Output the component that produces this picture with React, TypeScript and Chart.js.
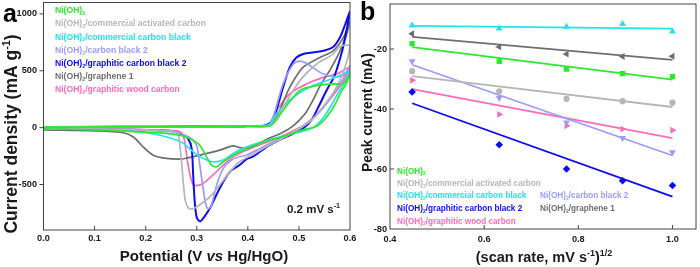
import React, { useEffect, useRef } from "react";
import { Chart, registerables } from "chart.js";

Chart.register(...registerables);

const FONT = '"Liberation Sans", Arial, Helvetica, sans-serif';
const TEXT = "#1a1a1a";
const FRAME = "#444444";

// Sample names (all share the Ni(OH)2 prefix) and their colours
const seriesSuffixes = [
  "",
  "/commercial activated carbon",
  "/commercial carbon black",
  "/carbon black 2",
  "/graphitic carbon black 2",
  "/graphene 1",
  "/graphitic wood carbon",
];
const seriesColors = ["#2ee82e", "#b6b6b6", "#22e3ee", "#9b9bff", "#0c0cf2", "#6e6e6e", "#ff6cb5"];

// Cyclic voltammograms at 0.2 mV/s: [potential V, current density mA/g],
// anodic sweep 0 -> 0.6 V followed by the cathodic sweep back to 0 V
const cvNiOH2: [number, number][] = [
  [0, 4], [0.15, 6], [0.3, 9], [0.4, 13], [0.445, 20], [0.469, 151], [0.502, 326], [0.535, 369],
  [0.567, 384], [0.587, 388], [0.6, 470],
  [0.592, 380], [0.584, 326], [0.564, 152], [0.538, 20], [0.505, -24], [0.466, -82], [0.43, -126],
  [0.398, -183], [0.371, -242], [0.352, -300], [0.339, -344], [0.329, -329], [0.319, -257],
  [0.306, -155], [0.286, -96], [0.267, -67], [0.228, -47], [0.189, -38], [0.12, -22], [0, -10],
];
const cvActivatedCarbon: [number, number][] = [
  [0, 4], [0.15, 6], [0.3, 9], [0.4, 13], [0.445, 22], [0.469, 180], [0.502, 413], [0.535, 559],
  [0.567, 646], [0.58, 712], [0.6, 720],
  [0.597, 640], [0.588, 500], [0.575, 370], [0.555, 220], [0.535, 110], [0.512, 25], [0.49, -35],
  [0.476, -75], [0.443, -150], [0.41, -235], [0.384, -300], [0.365, -387], [0.345, -504],
  [0.326, -606], [0.306, -678], [0.293, -713], [0.284, -708], [0.278, -650], [0.274, -504],
  [0.27, -290], [0.266, -120], [0.262, -45], [0.24, -25], [0.12, -14], [0, -10],
];
const cvCarbonBlack: [number, number][] = [
  [0, 6], [0.15, 8], [0.3, 10], [0.4, 14], [0.44, 22], [0.456, 122], [0.489, 267], [0.521, 354],
  [0.554, 413], [0.58, 457], [0.6, 500],
  [0.59, 400], [0.575, 290], [0.56, 170], [0.545, 70], [0.53, 5], [0.51, -30], [0.49, -50],
  [0.476, -67], [0.437, -111], [0.398, -169], [0.371, -227], [0.352, -285], [0.332, -300],
  [0.313, -271], [0.293, -213], [0.273, -135], [0.254, -100], [0.228, -67], [0.189, -38],
  [0.124, -18], [0, -8],
];
const cvCarbonBlack2: [number, number][] = [
  [0, 5], [0.15, 7], [0.3, 9], [0.4, 13], [0.44, 22], [0.45, 100], [0.469, 384], [0.489, 559],
  [0.502, 585], [0.515, 565], [0.528, 525], [0.548, 471], [0.567, 448], [0.587, 457], [0.6, 545],
  [0.592, 470], [0.578, 370], [0.562, 270], [0.545, 170], [0.525, 70], [0.505, 0], [0.48, -60],
  [0.456, -111], [0.424, -183], [0.398, -240], [0.371, -275], [0.352, -358], [0.339, -504],
  [0.329, -678], [0.3225, -715], [0.317, -660], [0.312, -520], [0.306, -330], [0.3, -160],
  [0.29, -100], [0.27, -55], [0.25, -35], [0.15, -18], [0, -10],
];
const cvGraphiticCarbonBlack2: [number, number][] = [
  [0, 5], [0.15, 7], [0.3, 9], [0.4, 13], [0.435, 22], [0.4497, 79], [0.469, 354], [0.482, 529],
  [0.495, 616], [0.51, 650], [0.53, 662], [0.55, 678], [0.567, 708], [0.58, 790], [0.59, 900],
  [0.6, 1020],
  [0.593, 850], [0.585, 680], [0.57, 460], [0.554, 326], [0.538, 180], [0.525, 70], [0.51, 0],
  [0.49, -50], [0.465, -100], [0.44, -160], [0.41, -255], [0.398, -275], [0.384, -329],
  [0.365, -387], [0.345, -533], [0.326, -707], [0.313, -795], [0.306, -824], [0.3, -790],
  [0.296, -650], [0.293, -416], [0.29, -183], [0.283, -96], [0.27, -60], [0.25, -30],
  [0.15, -18], [0, -10],
];
const cvGraphene1: [number, number][] = [
  [0, 4], [0.15, 6], [0.3, 9], [0.4, 13], [0.445, 22], [0.456, 93], [0.469, 220], [0.482, 354],
  [0.508, 529], [0.541, 616], [0.567, 675], [0.587, 791], [0.6, 930],
  [0.592, 800], [0.578, 650], [0.56, 500], [0.543, 380], [0.525, 220], [0.512, 122], [0.49, 20],
  [0.465, -50], [0.44, -95], [0.424, -135], [0.41, -165], [0.398, -180], [0.384, -176],
  [0.371, -160], [0.345, -198], [0.306, -242], [0.28, -268], [0.267, -277], [0.241, -271],
  [0.215, -242], [0.195, -169], [0.176, -82], [0.156, -45], [0.1, -28], [0, -21],
];
const cvWoodCarbon: [number, number][] = [
  [0, 7], [0.15, 9], [0.3, 11], [0.4, 15], [0.44, 24], [0.456, 151], [0.482, 297], [0.515, 384],
  [0.548, 442], [0.574, 471], [0.6, 530],
  [0.59, 430], [0.575, 330], [0.555, 215], [0.535, 115], [0.515, 40], [0.495, -15], [0.463, -82],
  [0.43, -140], [0.398, -198], [0.371, -257], [0.352, -329], [0.332, -416], [0.313, -489],
  [0.3, -510], [0.293, -500], [0.287, -420], [0.282, -300], [0.277, -140], [0.272, -55],
  [0.26, -28], [0.15, -14], [0, -8],
];
const cvCurves = [
  cvNiOH2, cvActivatedCarbon, cvCarbonBlack, cvCarbonBlack2, cvGraphiticCarbonBlack2, cvGraphene1, cvWoodCarbon,
];

const potentialTicks = [0, 0.1, 0.2, 0.3, 0.4, 0.5, 0.6];
const currentDensityTicks = [-500, 0, 500, 1000];

// Cathodic peak current vs square root of scan rate (0.2 ... 1.0 mV/s)
const sqrtScanRate = [0.447, 0.632, 0.775, 0.894, 1.0];
const peakNiOH2 = [-18.2, -24.1, -26.7, -28.2, -29.2];
const peakActivatedCarbon = [-27.4, -34.1, -36.6, -37.4, -37.9];
const peakCarbonBlack = [-12.2, -13.2, -12.6, -11.7, -14.2];
const peakCarbonBlack2 = [-24.1, -36.3, -44.5, -49.7, -54.4];
const peakGraphiticCarbonBlack2 = [-34.3, -51.9, -60.0, -63.9, -65.5];
const peakGraphene1 = [-14.9, -19.3, -21.7, -22.5, -22.4];
const peakWoodCarbon = [-30.4, -41.8, -45.6, -46.7, -47.1];
const peakSeries = [
  peakNiOH2, peakActivatedCarbon, peakCarbonBlack, peakCarbonBlack2, peakGraphiticCarbonBlack2, peakGraphene1, peakWoodCarbon,
];
const sqrtScanRateTicks = [0.4, 0.6, 0.8, 1.0];
const peakCurrentTicks = [-80, -60, -40, -20];

const peakMarkers: { style: string; rotation: number; radius: number }[] = [
  { style: "rect", rotation: 0, radius: 3.8 },
  { style: "circle", rotation: 0, radius: 3.1 },
  { style: "triangle", rotation: 0, radius: 4 },
  { style: "triangle", rotation: 180, radius: 4 },
  { style: "rectRot", rotation: 0, radius: 3.8 },
  { style: "triangle", rotation: 270, radius: 4 },
  { style: "triangle", rotation: 90, radius: 4 },
];

// Least-squares straight line through a series, evaluated at the ends of the x range
function linearFit(xs: number[], ys: number[]) {
  const n = xs.length;
  const mx = xs.reduce((a, b) => a + b, 0) / n;
  const my = ys.reduce((a, b) => a + b, 0) / n;
  let sxy = 0;
  let sxx = 0;
  for (let i = 0; i < n; i++) {
    sxy += (xs[i] - mx) * (ys[i] - my);
    sxx += (xs[i] - mx) * (xs[i] - mx);
  }
  const k = sxy / sxx;
  const x0 = xs[0];
  const x1 = xs[n - 1];
  return [
    { x: x0, y: my + k * (x0 - mx) },
    { x: x1, y: my + k * (x1 - mx) },
  ];
}

type Run = { text: string; kind?: "sub" | "sup"; italic?: boolean };

function runFont(size: number, run: Run) {
  const s = run.kind ? size * 0.62 : size;
  return `${run.italic ? "italic " : ""}bold ${s}px ${FONT}`;
}

function runsWidth(ctx: CanvasRenderingContext2D, runs: Run[], size: number) {
  let w = 0;
  for (const r of runs) {
    ctx.font = runFont(size, r);
    w += ctx.measureText(r.text).width;
  }
  return w;
}

function drawRuns(
  ctx: CanvasRenderingContext2D,
  runs: Run[],
  x: number,
  y: number,
  size: number,
  color: string,
  align: "left" | "center" | "right"
) {
  ctx.save();
  ctx.fillStyle = color;
  ctx.textBaseline = "alphabetic";
  ctx.textAlign = "left";
  const w = runsWidth(ctx, runs, size);
  let cx = align === "center" ? x - w / 2 : align === "right" ? x - w : x;
  for (const r of runs) {
    ctx.font = runFont(size, r);
    const dy = r.kind === "sub" ? size * 0.22 : r.kind === "sup" ? -size * 0.4 : 0;
    ctx.fillText(r.text, cx, y + dy);
    cx += ctx.measureText(r.text).width;
  }
  ctx.restore();
}

const niLabel = (suffix: string): Run[] => [
  { text: "Ni(OH)" },
  { text: "2", kind: "sub" },
  ...(suffix ? [{ text: suffix }] : []),
];

const TICK_SIZE = 9.2;

function drawFrame(chart: any) {
  const { ctx, chartArea: a } = chart;
  ctx.save();
  ctx.strokeStyle = FRAME;
  ctx.lineWidth = 1;
  ctx.strokeRect(a.left, a.top, a.right - a.left, a.bottom - a.top);
  ctx.restore();
}

// Tick marks (x inward, y inward/outward) and their labels
function drawAxes(
  chart: any,
  xs: number[],
  ys: number[],
  yTickDir: number,
  xLabelY: number,
  yLabelGap: number,
  fmtX: (v: number) => string
) {
  const { ctx, chartArea: a, scales } = chart;
  ctx.save();
  ctx.strokeStyle = FRAME;
  ctx.lineWidth = 1;
  ctx.beginPath();
  for (const v of xs) {
    const px = scales.x.getPixelForValue(v);
    if (Math.abs(px - a.left) < 1 || Math.abs(px - a.right) < 1) continue;
    ctx.moveTo(px, a.bottom);
    ctx.lineTo(px, a.bottom - 4);
  }
  for (const v of ys) {
    const py = scales.y.getPixelForValue(v);
    if (Math.abs(py - a.bottom) < 1 || Math.abs(py - a.top) < 1) continue;
    ctx.moveTo(a.left, py);
    ctx.lineTo(a.left + yTickDir * 4, py);
  }
  ctx.stroke();

  ctx.fillStyle = TEXT;
  ctx.font = `bold ${TICK_SIZE}px ${FONT}`;
  ctx.textAlign = "center";
  ctx.textBaseline = "middle";
  for (const v of xs) {
    ctx.fillText(fmtX(v), scales.x.getPixelForValue(v), xLabelY);
  }
  ctx.textAlign = "right";
  for (const v of ys) {
    ctx.fillText(String(v), a.left - yLabelGap, scales.y.getPixelForValue(v));
  }
  ctx.restore();
}

const cvDecorations = {
  id: "cvDecorations",
  afterDraw(chart: any) {
    const { ctx } = chart;
    drawFrame(chart);
    drawAxes(chart, potentialTicks, currentDensityTicks, -1, 238.5, 6.5, (v) => v.toFixed(1));

    // panel letter
    drawRuns(ctx, [{ text: "a" }], 3, 22, 25, "#000", "left");

    // axis titles
    drawRuns(ctx, [{ text: "Potential (V " }, { text: "vs", italic: true }, { text: " Hg/HgO)" }], 204, 261, 15, TEXT, "center");
    ctx.save();
    ctx.translate(17, 134);
    ctx.rotate(-Math.PI / 2);
    drawRuns(ctx, [{ text: "Current density (mA g" }, { text: "-1", kind: "sup" }, { text: ")" }], 0, 0, 17.5, TEXT, "center");
    ctx.restore();

    // legend
    seriesSuffixes.forEach((s, i) => {
      drawRuns(ctx, niLabel(s), 55, 13.2 + i * 13.2, 8.6, seriesColors[i], "left");
    });

    // scan-rate note
    drawRuns(ctx, [{ text: "0.2 mV s" }, { text: "-1", kind: "sup" }], 340, 213, 11.5, TEXT, "right");
  },
};

const peakDecorations = {
  id: "peakDecorations",
  afterDraw(chart: any) {
    const { ctx } = chart;
    drawFrame(chart);
    drawAxes(chart, sqrtScanRateTicks, peakCurrentTicks, 1, 239.3, 3, (v) => v.toFixed(1));

    drawRuns(ctx, [{ text: "b" }], 5, 20, 25, "#000", "left");

    drawRuns(
      ctx,
      [{ text: "(scan rate, mV s" }, { text: "-1", kind: "sup" }, { text: ")" }, { text: "1/2", kind: "sup" }],
      189,
      262,
      14.5,
      TEXT,
      "center"
    );
    ctx.save();
    ctx.translate(17, 112.5);
    ctx.rotate(-Math.PI / 2);
    drawRuns(ctx, [{ text: "Peak current (mA)" }], 0, 0, 13.8, TEXT, "center");
    ctx.restore();

    // legend, two columns
    const rows: [number, number, number][] = [
      [0, 42, 173.5],
      [1, 42, 185.8],
      [2, 42, 198.3],
      [3, 185, 198.3],
      [4, 42, 211],
      [5, 185, 211],
      [6, 42, 223.5],
    ];
    for (const [i, x, y] of rows) {
      drawRuns(ctx, niLabel(seriesSuffixes[i]), x, y, 8.2, seriesColors[i], "left");
    }
  },
};

function hiddenAxis(min: number, max: number, size: number, horizontal: boolean) {
  return {
    type: "linear",
    min,
    max,
    grid: { display: false },
    border: { display: false },
    ticks: { display: false },
    afterFit: (s: any) => {
      if (horizontal) s.height = size;
      else s.width = size;
    },
  };
}

export default function App() {
  const cvRef = useRef<HTMLCanvasElement>(null);
  const peakRef = useRef<HTMLCanvasElement>(null);

  useEffect(() => {
    document.body.style.margin = "0";
    if (!cvRef.current || !peakRef.current) return;

    const cvChart = new Chart(cvRef.current, {
      type: "scatter",
      data: {
        datasets: cvCurves.map((pts, i) => ({
          data: pts.map(([x, y]) => ({ x, y })),
          showLine: true,
          borderColor: seriesColors[i],
          backgroundColor: seriesColors[i],
          borderWidth: i === 4 ? 2 : 1.7,
          pointRadius: 0,
          tension: 0.3,
        })),
      },
      options: {
        responsive: false,
        animation: false,
        events: [],
        layout: { padding: { top: 2.5, right: 25, left: 0, bottom: 0 } },
        plugins: { legend: { display: false }, tooltip: { enabled: false } },
        scales: {
          x: hiddenAxis(0, 0.6, 37, true),
          y: hiddenAxis(-900, 1100, 43.5, false),
        },
      },
      plugins: [cvDecorations],
    } as any);

    const pointSets = peakSeries.map((ys, i) => ({
      data: ys.map((y, j) => ({ x: sqrtScanRate[j], y })),
      showLine: false,
      pointStyle: peakMarkers[i].style,
      rotation: peakMarkers[i].rotation,
      pointRadius: peakMarkers[i].radius,
      borderWidth: 0,
      backgroundColor: seriesColors[i],
      borderColor: seriesColors[i],
      order: 0,
    }));
    const fitSets = peakSeries.map((ys, i) => ({
      data: linearFit(sqrtScanRate, ys),
      showLine: true,
      pointRadius: 0,
      borderWidth: 1.8,
      borderColor: seriesColors[i],
      backgroundColor: seriesColors[i],
      order: 1,
    }));

    const peakChart = new Chart(peakRef.current, {
      type: "scatter",
      data: { datasets: [...pointSets, ...fitSets] },
      options: {
        responsive: false,
        animation: false,
        events: [],
        layout: { padding: { top: 2.5, right: 1.25, left: 0, bottom: 0 } },
        plugins: { legend: { display: false }, tooltip: { enabled: false } },
        scales: {
          x: hiddenAxis(0.4, 1.05, 38, true),
          y: hiddenAxis(-80, -5, 35, false),
        },
      },
      plugins: [peakDecorations],
    } as any);

    return () => {
      cvChart.destroy();
      peakChart.destroy();
    };
  }, []);

  return (
    <div style={{ position: "relative", width: 700, height: 267, background: "#fff", overflow: "hidden" }}>
      <canvas ref={cvRef} width={375} height={267} style={{ position: "absolute", left: 0, top: 0 }} />
      <canvas ref={peakRef} width={345} height={267} style={{ position: "absolute", left: 355, top: 0 }} />
    </div>
  );
}
